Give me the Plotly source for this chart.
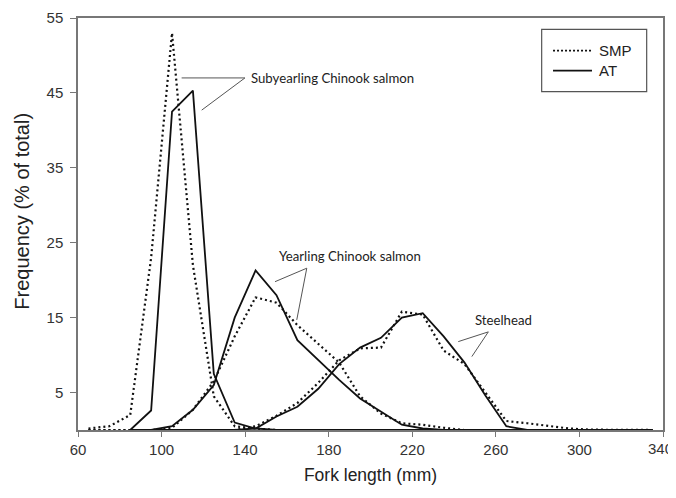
import plotly.graph_objects as go

# Fork length bin midpoints (mm)
fork_length = [65, 75, 85, 95, 105, 115, 125, 135, 145, 155, 165, 175, 185, 195, 205,
               215, 225, 235, 245, 255, 265, 275, 285, 295, 305, 315, 325, 335]

# Subyearling Chinook salmon
sub_smp = [0.2, 0.5, 2.0, 23.0, 53.0, 22.0, 4.5, 0.5, 0.2, 0, 0, 0, 0, 0, 0,
           0, 0, 0, 0, 0, 0, 0, 0, 0, 0, 0, 0, 0]
sub_at = [None, None, 0, 2.6, 42.5, 45.3, 7.5, 1.0, 0.2, 0, 0, 0, 0, 0, 0,
          0, 0, 0, 0, 0, 0, 0, 0, 0, 0, 0, 0, 0]

# Yearling Chinook salmon
yr_smp = [0, 0, 0, 0, 0.3, 2.7, 6.5, 12.5, 17.7, 17.0, 14.0, 11.5, 9.0, 4.5, 2.2,
          0.9, 0.7, 0.3, 0, 0, 0, 0, 0, 0, 0, 0, 0, 0]
yr_at = [None, None, 0, 0, 0.5, 2.7, 6.0, 15.0, 21.3, 18.0, 12.0, 9.3, 6.7, 4.2, 2.4,
         0.7, 0.2, 0, 0, 0, 0, 0, 0, 0, 0, 0, 0, 0]

# Steelhead
sh_smp = [0, 0, 0, 0, 0, 0, 0, 0, 0.5, 1.9, 3.6, 6.3, 9.3, 10.9, 11.0,
          15.8, 15.4, 10.6, 8.8, 5.0, 1.2, 0.9, 0.6, 0.2, 0.05, 0, 0, 0]
sh_at = [None, None, 0, 0, 0, 0, 0, 0, 0.2, 1.8, 3.1, 5.5, 8.8, 11.0, 12.3,
         15.0, 15.6, 12.5, 9.0, 4.6, 0.5, 0, 0, 0, 0, 0, 0, 0]

x_ticks = [60, 100, 140, 180, 220, 260, 300, 340]
x_tick_labels = ["60", "100", "140", "180", "220", "260", "300", "340"]
y_ticks = [5, 15, 25, 35, 45, 55]

series_labels = ["SMP", "AT"]
group_labels = ["Subyearling Chinook salmon", "Yearling Chinook salmon", "Steelhead"]
x_title = "Fork length (mm)"
y_title = "Frequency (% of total)"

fig = go.Figure()

smp_style = dict(color="#111", width=2.2, dash="2px,3px")
at_style = dict(color="#111", width=1.8)

for ys in [sub_smp, yr_smp, sh_smp]:
    fig.add_trace(go.Scatter(x=fork_length, y=ys, mode="lines", line=smp_style,
                             name=series_labels[0], showlegend=False))
for ys in [sub_at, yr_at, sh_at]:
    fig.add_trace(go.Scatter(x=fork_length, y=ys, mode="lines", line=at_style,
                             name=series_labels[1], showlegend=False))

ann_font = dict(family="Lato, Open Sans, sans-serif", size=13.2, color="#222")
fig.add_annotation(x=141.9, y=47.0, text=group_labels[0], showarrow=False,
                   xanchor="left", yanchor="middle", font=ann_font)
fig.add_annotation(x=155.1, y=23.2, text=group_labels[1], showarrow=False,
                   xanchor="left", yanchor="middle", font=ann_font)
fig.add_annotation(x=249.2, y=14.7, text=group_labels[2], showarrow=False,
                   xanchor="left", yanchor="middle", font=ann_font)

lc = dict(color="#555", width=1)
leader_segs = [
    (109.6, 47.0, 139.9, 47.0),
    (139.9, 47.0, 119.2, 42.7),
    (169.5, 21.6, 154.3, 19.8),
    (169.5, 21.6, 164.7, 14.7),
    (256.4, 13.1, 242.0, 11.8),
    (256.4, 13.1, 248.5, 9.8),
]
for (x0, y0, x1, y1) in leader_segs:
    fig.add_shape(type="line", x0=x0, y0=y0, x1=x1, y1=y1, xref="x", yref="y", line=lc)

# legend drawn in paper coordinates
fig.add_shape(type="rect", xref="paper", yref="paper", x0=0.7926, x1=0.9721,
              y0=0.8211, y1=0.9726, line=dict(color="#555", width=1.2), fillcolor="white")
fig.add_shape(type="line", xref="paper", yref="paper", x0=0.812, x1=0.8786,
              y0=0.9206, y1=0.9206, line=dict(color="#111", width=1.8, dash="2px,2px"))
fig.add_shape(type="line", xref="paper", yref="paper", x0=0.812, x1=0.8786,
              y0=0.8721, y1=0.8721, line=dict(color="#111", width=1.8))
leg_font = dict(family="Liberation Sans, Arial, sans-serif", size=15, color="#222")
fig.add_annotation(xref="paper", yref="paper", x=0.8872, y=0.9206, text=series_labels[0],
                   showarrow=False, xanchor="left", yanchor="middle", font=leg_font)
fig.add_annotation(xref="paper", yref="paper", x=0.8872, y=0.8721, text=series_labels[1],
                   showarrow=False, xanchor="left", yanchor="middle", font=leg_font)

# y-axis title as rotated text
fig.add_annotation(xref="paper", yref="paper", x=-0.0957, y=0.53, text=y_title,
                   textangle=-90, showarrow=False, xanchor="center", yanchor="middle",
                   font=dict(family="Liberation Sans, Arial, sans-serif", size=20, color="#222"))

axis_font = dict(family="Liberation Sans, Arial, sans-serif", size=15, color="#333")
title_font = dict(family="Liberation Sans, Arial, sans-serif", size=17.5, color="#222")

# last x tick label drawn right-aligned so it is not cut at the page edge
shown_labels = x_tick_labels[:-1] + [""]
fig.add_annotation(x=x_ticks[-1], xref="x", yref="paper", y=-0.02, text=x_tick_labels[-1],
                   showarrow=False, xanchor="center", yanchor="top", xshift=-3,
                   font=axis_font)

fig.update_xaxes(range=[60, 340], tickvals=x_ticks, ticktext=shown_labels,
                 ticks="outside", ticklen=5,
                 tickcolor="#777", showline=True, linecolor="#777", linewidth=1.5,
                 mirror=True, showgrid=False, zeroline=False, tickfont=axis_font,
                 automargin=False,
                 title=dict(text=x_title, font=title_font, standoff=12))
fig.update_yaxes(range=[0, 55], tickvals=y_ticks, ticks="outside", ticklen=6,
                 tickcolor="#777", showline=True, linecolor="#777", linewidth=1.5,
                 mirror=True, showgrid=False, zeroline=False, tickfont=axis_font,
                 automargin=False, ticklabelstandoff=4)

# page has an 8px body margin, so the figure is offset by 8px
fig.update_layout(
    width=676, height=482,
    margin=dict(l=70, r=21, t=10, b=60),
    paper_bgcolor="white", plot_bgcolor="white",
    showlegend=False,
)

fig.write_html("out.html")
